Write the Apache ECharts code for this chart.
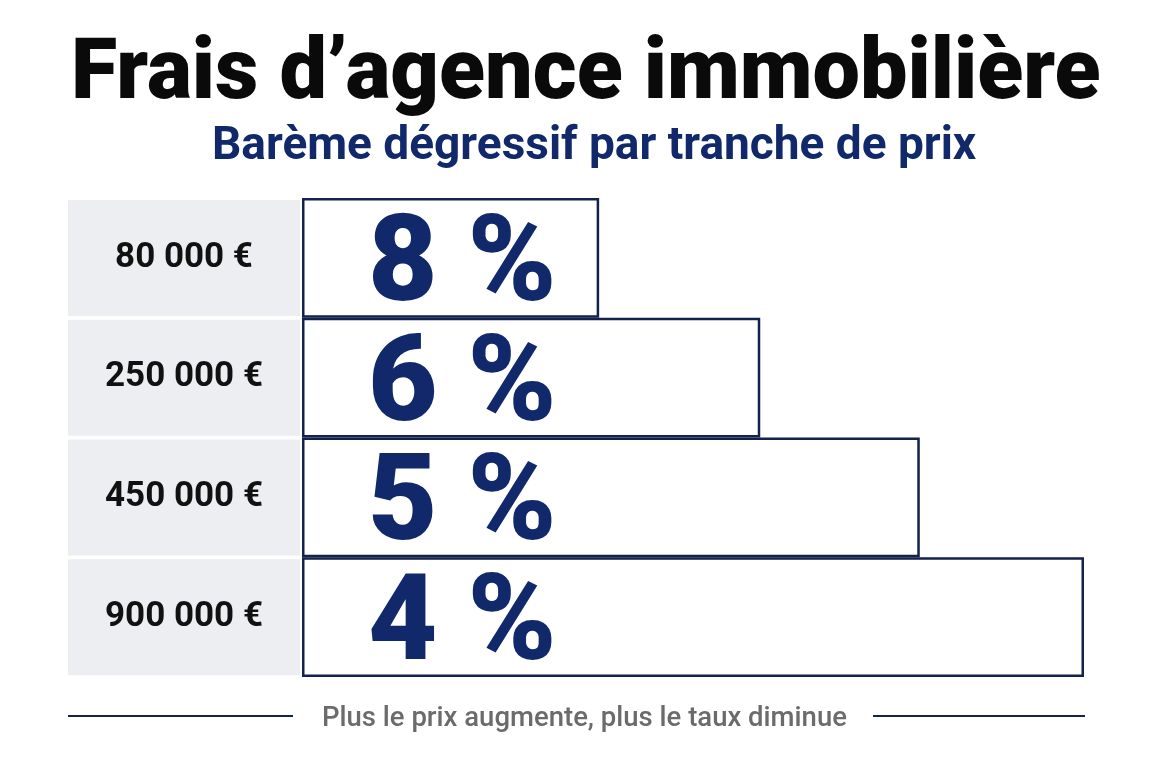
<!DOCTYPE html>
<html>
<head>
<meta charset="utf-8">
<script src="https://cdn.jsdelivr.net/npm/echarts@6/dist/echarts.min.js"></script>
<style>
  html, body { margin: 0; padding: 0; background: #ffffff; }
  #chart { width: 1152px; height: 768px; }
</style>
</head>
<body>
<div id="chart"></div>
<script>
// ── Data ──
const priceBands = ['80 000 €', '250 000 €', '450 000 €', '900 000 €'];
const rates = [8, 6, 5, 4];
// visual length of each step (share of full width)
const stepLengths = [38, 58.6, 79, 100];

const NAVY = '#11296b';
const BORDER = '#13214d';
const FONT = 'Roboto, "Noto Sans", sans-serif';

const chart = echarts.init(document.getElementById('chart'));

chart.setOption({
  backgroundColor: '#ffffff',
  textStyle: { fontFamily: FONT },
  title: [
    {
      text: 'Frais d’agence immobilière',
      left: 66, top: 29,
      textStyle: { fontSize: 84.5, fontWeight: 900, color: '#0a0a0a', fontFamily: FONT },
    },
    {
      text: 'Barème dégressif par tranche de prix',
      left: 207, top: 119,
      textStyle: { fontSize: 46, fontWeight: 'bold', color: NAVY, fontFamily: FONT },
    },
    {
      text: 'Plus le prix augmente, plus le taux diminue',
      left: 317, top: 700,
      textStyle: { fontSize: 27.5, fontWeight: 500, color: '#6b6b6b', fontFamily: FONT },
    },
  ],
  graphic: [
    { type: 'line', shape: { x1: 68, y1: 716, x2: 293, y2: 716 },
      style: { stroke: BORDER, lineWidth: 2 } },
    { type: 'line', shape: { x1: 873, y1: 716, x2: 1085, y2: 716 },
      style: { stroke: BORDER, lineWidth: 2 } },
  ],
  grid: { left: 302, right: 68, top: 198, bottom: 91 },
  xAxis: {
    type: 'value', min: 0, max: 100, show: false,
  },
  yAxis: {
    type: 'category',
    inverse: true,
    data: priceBands,
    axisLine: { show: false },
    axisTick: { show: false },
    splitLine: { show: false },
    axisLabel: {
      margin: 2,
      formatter: v => '{box|' + v + '}',
      rich: {
        box: {
          width: 232, height: 116, align: 'center', verticalAlign: 'middle',
          backgroundColor: '#eceef1',
          fontSize: 35, fontWeight: 'bold', color: '#111111', fontFamily: FONT,
        },
      },
    },
  },
  series: [{
    type: 'bar',
    barWidth: '100%',
    data: stepLengths,
    itemStyle: { color: '#ffffff', borderColor: BORDER, borderWidth: 2.5 },
    label: {
      show: true,
      position: 'insideLeft',
      distance: 66,
      offset: [0, 12],
      formatter: p => rates[p.dataIndex] + ' %',
      fontSize: 120, fontWeight: 900, color: NAVY, fontFamily: FONT,
    },
    silent: true,
  }],
});
</script>
</body>
</html>
